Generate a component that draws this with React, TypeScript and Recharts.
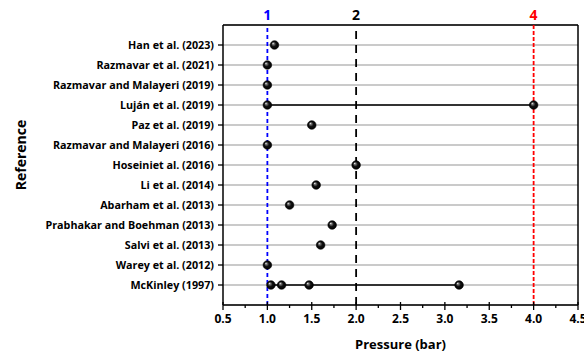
import { ScatterChart, Scatter, XAxis, YAxis, CartesianGrid, ReferenceLine } from "recharts";

// rows from top to bottom
const references = [
  "Han et al. (2023)",
  "Razmavar et al. (2021)",
  "Razmavar and Malayeri (2019)",
  "Luján et al. (2019)",
  "Paz et al. (2019)",
  "Razmavar and Malayeri (2016)",
  "Hoseiniet al. (2016)",
  "Li et al. (2014)",
  "Abarham et al. (2013)",
  "Prabhakar and Boehman (2013)",
  "Salvi et al. (2013)",
  "Warey et al. (2012)",
  "McKinley (1997)",
];

// pressure values (bar) for each reference
const pressures: number[][] = [
  [1.08],
  [1.0],
  [1.0],
  [1.0, 4.0],
  [1.5],
  [1.0],
  [2.0],
  [1.55],
  [1.25],
  [1.73],
  [1.6],
  [1.0],
  [1.04, 1.16, 1.47, 3.16],
];

const majorTicks = [0.5, 1.0, 1.5, 2.0, 2.5, 3.0, 3.5, 4.0, 4.5];
const allTicks = [0.5, 0.75, 1.0, 1.25, 1.5, 1.75, 2.0, 2.25, 2.5, 2.75, 3.0, 3.25, 3.5, 3.75, 4.0, 4.25, 4.5];
const rowTicks = references.map((_, i) => i + 1);

const markers = [1, 2, 4];
const markerStyle: Record<number, { color: string; dash: string }> = {
  1: { color: "#0000ff", dash: "4 3" },
  2: { color: "#000000", dash: "8 6" },
  4: { color: "#ff0000", dash: "4 2" },
};

const FONT = "'Open Sans', sans-serif";
const TICK_SIZE = 5;
const TICK_MARGIN = 3;

const XTick = ({ x, y, payload }: any) => {
  const major = majorTicks.includes(payload.value);
  const axisY = y - TICK_SIZE - TICK_MARGIN;
  return (
    <g>
      <line
        x1={x}
        x2={x}
        y1={major ? axisY - 3 : axisY}
        y2={major ? axisY + 5 : axisY + 3}
        stroke="#000"
        strokeWidth={1.3}
      />
      {major && (
        <text x={x} y={y + 1} dy="0.71em" textAnchor="middle" fontFamily={FONT} fontWeight={700} fontSize={12} fill="#000">
          {payload.value.toFixed(1)}
        </text>
      )}
    </g>
  );
};

const Ball = ({ cx, cy }: any) => (
  <circle cx={cx} cy={cy} r={4.3} fill="url(#ballGrad)" stroke="#000" strokeWidth={0.6} />
);

export default function App() {
  return (
    <div style={{ position: "absolute", left: 0, top: 0, background: "#fff" }}>
      <ScatterChart width={584} height={357} margin={{ top: 25, right: 6, bottom: 12, left: 0 }}>
        <defs>
          <radialGradient id="ballGrad" cx="50%" cy="50%" r="50%" fx="32%" fy="30%">
            <stop offset="0%" stopColor="#ffffff" />
            <stop offset="22%" stopColor="#777777" />
            <stop offset="55%" stopColor="#111111" />
            <stop offset="100%" stopColor="#000000" />
          </radialGradient>
        </defs>
        <CartesianGrid vertical={false} stroke="#b8b8b8" strokeWidth={1.3} />
        <XAxis
          type="number"
          dataKey="x"
          domain={[0.5, 4.5]}
          ticks={allTicks}
          interval={0}
          tick={<XTick />}
          tickLine={false}
          tickSize={TICK_SIZE}
          tickMargin={TICK_MARGIN}
          axisLine={{ stroke: "#000", strokeWidth: 1.5 }}
          height={40}
          label={{
            value: "Pressure (bar)",
            position: "insideBottom",
            offset: -4,
            style: { fontFamily: FONT, fontWeight: 700, fontSize: 13, fill: "#000" },
          }}
        />
        <YAxis
          type="number"
          dataKey="y"
          domain={[0, references.length + 1]}
          reversed
          ticks={rowTicks}
          interval={0}
          tickFormatter={(v: number) => references[v - 1] ?? ""}
          tick={{ fontFamily: FONT, fontWeight: 700, fontSize: 10.75, fill: "#000" }}
          tickSize={5}
          tickMargin={4}
          tickLine={{ stroke: "#000", strokeWidth: 1.3 }}
          axisLine={{ stroke: "#000", strokeWidth: 1.5 }}
          width={223}
          label={{
            content: (p: any) => {
              const vb = p.viewBox || { x: 0, y: 0, height: 0 };
              const lx = vb.x + 20;
              const ly = vb.y + vb.height / 2 - 10;
              return (
                <text
                  x={lx}
                  y={ly}
                  transform={`rotate(-90 ${lx} ${ly})`}
                  textAnchor="middle"
                  dominantBaseline="central"
                  fontFamily={FONT}
                  fontWeight={700}
                  fontSize={14}
                  fill="#000"
                >
                  Reference
                </text>
              );
            },
          }}
        />
        <ReferenceLine y={0} stroke="#000" strokeWidth={1.5} />
        <ReferenceLine x={4.5} stroke="#000" strokeWidth={1.5} />
        {markers.map((m) => (
          <ReferenceLine
            key={m}
            x={m}
            stroke={markerStyle[m].color}
            strokeWidth={1.8}
            strokeDasharray={markerStyle[m].dash}
            label={{
              value: String(m),
              position: "top",
              offset: 5,
              style: { fontFamily: FONT, fontWeight: 700, fontSize: 14, fill: markerStyle[m].color },
            }}
          />
        ))}
        {pressures.map((vals, i) => (
          <Scatter
            key={references[i]}
            data={vals.map((v) => ({ x: v, y: i + 1 }))}
            line={vals.length > 1 ? { stroke: "#000", strokeWidth: 1.5 } : false}
            shape={<Ball />}
            isAnimationActive={false}
          />
        ))}
      </ScatterChart>
    </div>
  );
}
